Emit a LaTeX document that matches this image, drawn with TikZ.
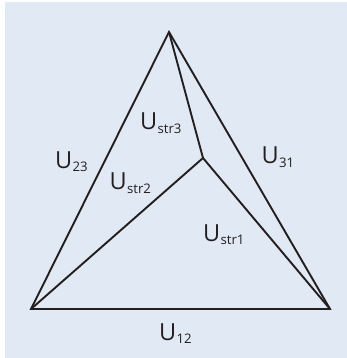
\documentclass[tikz,border=0pt]{standalone}
\usepackage{fontspec}
\setmainfont{Open Sans}
\definecolor{bgblue}{RGB}{225,233,244}
\definecolor{ink}{RGB}{35,31,32}
\newcommand{\lbl}[1]{U\kern0.3pt\raisebox{-3.5pt}{\fontsize{13.2}{14}\selectfont #1}}
\begin{document}
\begin{tikzpicture}[x=1pt,y=-1pt,
  edge/.style={draw=ink,line width=1.9pt,line join=miter},
  tag/.style={anchor=base west,inner sep=0pt,text=ink,font=\fontsize{23.5}{24}\selectfont}]
\useasboundingbox (0,0) rectangle (347,358);
\fill[bgblue] (5,2) rectangle (347,358);
\coordinate (A) at (169,32);
\coordinate (B) at (31,309);
\coordinate (C) at (330,309);
\coordinate (P) at (203,158);
\draw[edge] (A) -- (B) -- (C) -- cycle;
\draw[edge] (A) -- (P);
\draw[edge] (B) -- (P);
\draw[edge] (C) -- (P);
\node[tag] (u23) at (55,168) {\lbl{23}};
\node[tag] (us3) at (140,130) {\lbl{str3}};
\node[tag] (us2) at (109.5,189.5) {\lbl{str2}};
\node[tag] (u31) at (261.5,163.5) {\lbl{31}};
\node[tag] (us1) at (203,241) {\lbl{str1}};
\node[tag] (u12) at (159,340) {\lbl{12}};
\end{tikzpicture}
\end{document}
